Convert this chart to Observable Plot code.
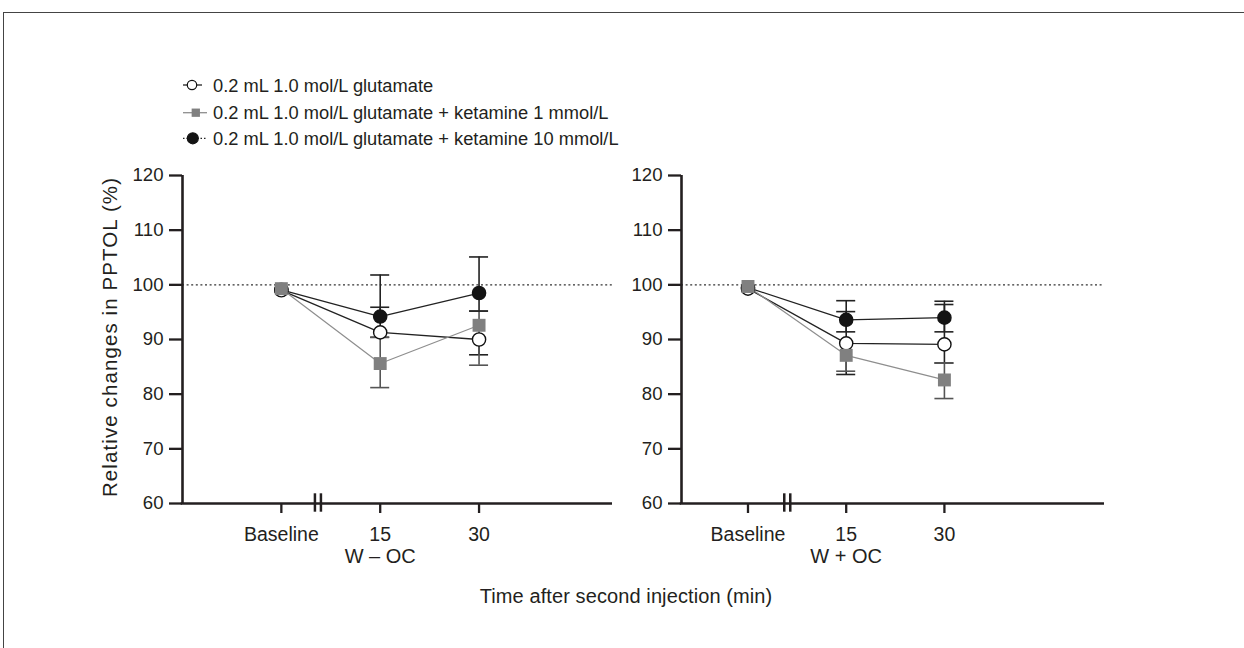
<!DOCTYPE html>
<html>
<head>
<meta charset="utf-8">
<script src="https://cdn.jsdelivr.net/npm/d3@7"></script>
<script src="https://cdn.jsdelivr.net/npm/@observablehq/plot@0.6"></script>
<style>
  body { margin: 0; background: #fff; font-family: "Liberation Sans", Arial, sans-serif; color: #231f20; }
  #page { position: relative; width: 1244px; height: 648px; overflow: hidden; background: #fff; }
  #frame { position: absolute; left: 3px; top: 11.5px; width: 1260px; height: 660px; border-top: 1.2px solid #444; border-left: 1.2px solid #444; }
  .panel { position: absolute; top: 0; }
  .panel svg { overflow: visible; }
  #legend { position: absolute; left: 0; top: 0; }
  #xtitle { position: absolute; left: 626px; top: 586px; transform: translateX(-50%); font-size: 20px; line-height: 20px; white-space: nowrap; letter-spacing: 0.1px; }
  #ytitle { position: absolute; left: 110px; top: 337px; transform: translate(-50%, -50%) rotate(-90deg); font-size: 20.5px; line-height: 20px; white-space: nowrap; letter-spacing: 1.1px; }
</style>
</head>
<body>
<div id="page">
  <div id="frame"></div>
  <svg id="legend" width="1244" height="160"></svg>
  <div id="left" class="panel" style="left:0px"></div>
  <div id="right" class="panel" style="left:600px"></div>
  <div id="ytitle"></div>
  <div id="xtitle"></div>
</div>
<script>
// ---------- data ----------
const timeLabels = ["Baseline", "15", "30"];
const timeIndex = [0, 1, 2];
const yTicks = [60, 70, 80, 90, 100, 110, 120];
const seriesNames = [
  "0.2 mL 1.0 mol/L glutamate",
  "0.2 mL 1.0 mol/L glutamate + ketamine 1 mmol/L",
  "0.2 mL 1.0 mol/L glutamate + ketamine 10 mmol/L"
];
const panelNames = ["W \u2013 OC", "W + OC"];
const yTitle = "Relative changes in PPTOL (%)";
const xTitle = "Time after second injection (min)";
const referenceLevel = 100;

// W – OC panel: mean, lower and upper error-bar ends
const wocGlu   = [99.0, 91.3, 90.0];
const wocGluLo = [99.0, 90.4, 87.2];
const wocGluHi = [99.0, 95.9, 90.0];
const wocK1    = [99.3, 85.6, 92.6];
const wocK1Lo  = [99.3, 81.2, 85.3];
const wocK1Hi  = [99.3, 90.4, 95.2];
const wocK10   = [99.1, 94.2, 98.5];
const wocK10Lo = [99.1, 94.2, 95.2];
const wocK10Hi = [99.1, 101.8, 105.1];

// W + OC panel
const wpcGlu   = [99.3, 89.3, 89.1];
const wpcGluLo = [99.3, 83.6, 85.7];
const wpcGluHi = [99.3, 95.1, 97.0];
const wpcK1    = [99.7, 87.1, 82.6];
const wpcK1Lo  = [99.7, 84.2, 79.2];
const wpcK1Hi  = [99.7, 87.1, 85.7];
const wpcK10   = [99.5, 93.6, 94.0];
const wpcK10Lo = [99.5, 91.4, 91.4];
const wpcK10Hi = [99.5, 97.1, 96.4];

// axis break position (between Baseline and 15)
const breakPos = [0.37, 0.40];

// ---------- styles ----------
const styles = [
  {key: "glu", line: "#222", lineW: 1.3, err: "#222", fill: "white", stroke: "#111", symbol: "circle", r: 6.6},
  {key: "k1",  line: "#8e8e8e", lineW: 1.2, err: "#555", fill: "#808080", stroke: "none", symbol: "square", r: 7.3},
  {key: "k10", line: "#222", lineW: 1.3, err: "#222", fill: "#141414", stroke: "#141414", symbol: "circle", r: 6.6}
];

function rowsFor(mean, lo, hi) {
  return timeIndex.map((x, i) => ({x, y: mean[i], lo: lo[i], hi: hi[i]}));
}

const panelData = [
  [rowsFor(wocGlu, wocGluLo, wocGluHi), rowsFor(wocK1, wocK1Lo, wocK1Hi), rowsFor(wocK10, wocK10Lo, wocK10Hi)],
  [rowsFor(wpcGlu, wpcGluLo, wpcGluHi), rowsFor(wpcK1, wpcK1Lo, wpcK1Hi), rowsFor(wpcK10, wpcK10Lo, wpcK10Hi)]
];

const font = "Liberation Sans, Arial, sans-serif";

function makePanel(p, cfg) {
  const {xDomain, width, marginLeft, marginRight} = cfg;
  const marginTop = 175, marginBottom = 145, height = 648;
  const unitX = (width - marginLeft - marginRight) / (xDomain[1] - xDomain[0]);
  const unitY = (height - marginTop - marginBottom) / 60;
  const capHalf = 9.5 / unitX;
  const series = panelData[p];
  const marks = [];

  // dotted reference line
  marks.push(Plot.ruleY([referenceLevel], {x1: xDomain[0], x2: xDomain[1], stroke: "#333", strokeWidth: 1.1, strokeDasharray: "2,2.6"}));

  // axes
  marks.push(Plot.axisY(yTicks, {tickSize: 13, tickPadding: 6, fontSize: 18.6, color: "#231f20", strokeWidth: 2.3, label: null}));
  marks.push(Plot.axisX(timeIndex, {tickSize: 10, tickPadding: 13.5, fontSize: 19.5, color: "#231f20", strokeWidth: 2.3, tickFormat: i => timeLabels[i], label: null}));
  marks.push(Plot.ruleX([xDomain[0]], {y1: 60, y2: 120, stroke: "#231f20", strokeWidth: 2.6}));
  marks.push(Plot.ruleY([60], {x1: xDomain[0] - 1.3 / unitX, x2: xDomain[1], stroke: "#231f20", strokeWidth: 2.6}));
  // axis break marks
  const b = breakPos[p];
  marks.push(Plot.ruleX([b - 3 / unitX, b + 3 / unitX], {y1: 60 - 8.7 / unitY, y2: 60 + 9.7 / unitY, stroke: "#231f20", strokeWidth: 2.5}));

  // error bars
  series.forEach((rows, s) => {
    const st = styles[s];
    const bars = rows.filter(d => d.hi > d.lo);
    marks.push(Plot.ruleX(bars, {x: "x", y1: "lo", y2: "hi", stroke: st.err, strokeWidth: 1.6}));
    const caps = [];
    rows.forEach(d => {
      if (d.lo < d.y) caps.push({x: d.x, v: d.lo});
      if (d.hi > d.y) caps.push({x: d.x, v: d.hi});
    });
    marks.push(Plot.ruleY(caps, {y: "v", x1: d => d.x - capHalf, x2: d => d.x + capHalf, stroke: st.err, strokeWidth: 1.6}));
  });

  // lines
  series.forEach((rows, s) => {
    const st = styles[s];
    marks.push(Plot.line(rows, {x: "x", y: "y", stroke: st.line, strokeWidth: st.lineW}));
  });

  // markers: 10 mmol/L, glutamate, then 1 mmol/L on top
  [2, 0, 1].forEach(s => {
    const st = styles[s];
    marks.push(Plot.dot(series[s], {x: "x", y: "y", r: st.r, symbol: st.symbol, fill: st.fill, stroke: st.stroke, strokeWidth: 1.4}));
  });

  // panel name
  marks.push(Plot.text([panelNames[p]], {x: timeIndex[1], frameAnchor: "bottom", dy: 59, fontSize: 20, fill: "#231f20"}));

  return Plot.plot({
    width, height, marginLeft, marginRight, marginTop, marginBottom,
    style: {background: "transparent", fontFamily: font, overflow: "visible", color: "#231f20"},
    x: {domain: xDomain, axis: null},
    y: {domain: [60, 120], axis: null},
    marks
  });
}

document.getElementById("left").appendChild(
  makePanel(0, {xDomain: [-1.0, 3.35], width: 640, marginLeft: 182, marginRight: 28})
);
document.getElementById("right").appendChild(
  makePanel(1, {xDomain: [-0.677, 3.63], width: 644, marginLeft: 81, marginRight: 140})
);

document.getElementById("ytitle").textContent = yTitle;
document.getElementById("xtitle").textContent = xTitle;

// ---------- legend ----------
const legendRows = [
  {y: 85,   x1: 183, x2: 202, cx: 192,   dash: null, sym: "circle", r: 4.7, fill: "white", stroke: "#111", line: "#222"},
  {y: 112.7, x1: 183, x2: 207, cx: 195.8, dash: null, sym: "square", r: 4.15, fill: "#808080", stroke: "none", line: "#8e8e8e"},
  {y: 138.3, x1: 183, x2: 207, cx: 192.8, dash: "1.5,2", sym: "circle", r: 5.5, fill: "#141414", stroke: "#141414", line: "#222"}
];
const lg = d3.select("#legend");
legendRows.forEach((row, i) => {
  lg.append("line").attr("x1", row.x1).attr("x2", row.x2).attr("y1", row.y).attr("y2", row.y)
    .attr("stroke", row.line).attr("stroke-width", 1.3).attr("stroke-dasharray", row.dash);
  if (row.sym === "circle") {
    lg.append("circle").attr("cx", row.cx).attr("cy", row.y).attr("r", row.r)
      .attr("fill", row.fill).attr("stroke", row.stroke).attr("stroke-width", 1.2);
  } else {
    lg.append("rect").attr("x", row.cx - row.r).attr("y", row.y - row.r).attr("width", 2 * row.r).attr("height", 2 * row.r)
      .attr("fill", row.fill);
  }
  lg.append("text").attr("x", 213).attr("y", row.y).attr("dy", "0.36em")
    .attr("font-family", font).attr("font-size", 18.3).attr("fill", "#231f20").text(seriesNames[i]);
});
</script>
</body>
</html>
